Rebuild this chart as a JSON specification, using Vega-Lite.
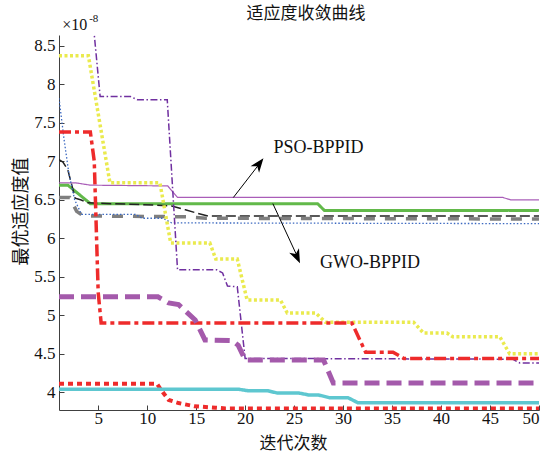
{
  "$schema": "https://vega.github.io/schema/vega-lite/v6.json",
  "width": 480,
  "height": 375,
  "autosize": {"type": "none"},
  "padding": {"left": 59, "top": 35, "right": 8, "bottom": 46},
  "background": "white",
  "title": {"text": "适应度收敛曲线", "font": "Noto Sans CJK SC", "fontSize": 17, "fontWeight": "normal", "color": "#111111", "frame": "group", "offset": -10, "dx": 7},
  "config": {
    "view": {"stroke": null},
    "axis": {"domainColor": "#404040", "domainWidth": 1, "tickColor": "#404040", "tickSize": -5, "labelFont": "Liberation Serif", "labelFontSize": 17, "labelColor": "#111111", "titleFont": "Noto Sans CJK SC", "titleFontSize": 18, "titleFontWeight": "normal", "titleColor": "#111111", "grid": false}
  },
  "datasets": {
    "curves": [
      {"series": "PSO-BPPID", "x": 1, "y": 6.72}, {"series": "PSO-BPPID", "x": 2.7, "y": 6.72}, {"series": "PSO-BPPID", "x": 4.2, "y": 6.69}, {"series": "PSO-BPPID", "x": 12.1, "y": 6.68}, {"series": "PSO-BPPID", "x": 13.1, "y": 6.53}, {"series": "PSO-BPPID", "x": 46.3, "y": 6.53}, {"series": "PSO-BPPID", "x": 47.1, "y": 6.50}, {"series": "PSO-BPPID", "x": 50, "y": 6.50},
      {"series": "GWO-BPPID", "x": 1, "y": 6.69}, {"series": "GWO-BPPID", "x": 1.9, "y": 6.69}, {"series": "GWO-BPPID", "x": 4.2, "y": 6.45}, {"series": "GWO-BPPID", "x": 27.4, "y": 6.45}, {"series": "GWO-BPPID", "x": 28.1, "y": 6.36}, {"series": "GWO-BPPID", "x": 50, "y": 6.36},
      {"series": "S3", "x": 1, "y": 7.02}, {"series": "S3", "x": 1.4, "y": 6.99}, {"series": "S3", "x": 1.9, "y": 6.89}, {"series": "S3", "x": 2.65, "y": 6.52}, {"series": "S3", "x": 3.2, "y": 6.50}, {"series": "S3", "x": 4, "y": 6.46}, {"series": "S3", "x": 11, "y": 6.43}, {"series": "S3", "x": 12.5, "y": 6.42}, {"series": "S3", "x": 13.9, "y": 6.37}, {"series": "S3", "x": 15, "y": 6.33}, {"series": "S3", "x": 16.2, "y": 6.29}, {"series": "S3", "x": 50, "y": 6.29},
      {"series": "S4", "x": 1, "y": 6.53}, {"series": "S4", "x": 2.1, "y": 6.53}, {"series": "S4", "x": 2.8, "y": 6.35}, {"series": "S4", "x": 3.5, "y": 6.29}, {"series": "S4", "x": 14, "y": 6.28}, {"series": "S4", "x": 16, "y": 6.26}, {"series": "S4", "x": 50, "y": 6.25},
      {"series": "S5", "x": 1, "y": 7.82}, {"series": "S5", "x": 1.5, "y": 7.3}, {"series": "S5", "x": 2, "y": 6.85}, {"series": "S5", "x": 2.6, "y": 6.5}, {"series": "S5", "x": 3.3, "y": 6.31}, {"series": "S5", "x": 8.8, "y": 6.31}, {"series": "S5", "x": 9.5, "y": 6.26}, {"series": "S5", "x": 11.6, "y": 6.26}, {"series": "S5", "x": 12.5, "y": 6.2}, {"series": "S5", "x": 50, "y": 6.19},
      {"series": "S6", "x": 1, "y": 8.37}, {"series": "S6", "x": 4, "y": 8.37}, {"series": "S6", "x": 6.2, "y": 6.72}, {"series": "S6", "x": 11.3, "y": 6.72}, {"series": "S6", "x": 12.4, "y": 5.94}, {"series": "S6", "x": 16.4, "y": 5.94}, {"series": "S6", "x": 17, "y": 5.73}, {"series": "S6", "x": 19.2, "y": 5.73}, {"series": "S6", "x": 20.2, "y": 5.2}, {"series": "S6", "x": 23.6, "y": 5.2}, {"series": "S6", "x": 24.3, "y": 5.03}, {"series": "S6", "x": 27.2, "y": 5.03}, {"series": "S6", "x": 28.2, "y": 4.91}, {"series": "S6", "x": 37.2, "y": 4.91}, {"series": "S6", "x": 38.2, "y": 4.77}, {"series": "S6", "x": 40.6, "y": 4.77}, {"series": "S6", "x": 41.2, "y": 4.72}, {"series": "S6", "x": 46, "y": 4.72}, {"series": "S6", "x": 47, "y": 4.5}, {"series": "S6", "x": 50, "y": 4.5},
      {"series": "S7", "x": 4, "y": 9.45}, {"series": "S7", "x": 5.2, "y": 7.84}, {"series": "S7", "x": 8.3, "y": 7.84}, {"series": "S7", "x": 9, "y": 7.8}, {"series": "S7", "x": 12.05, "y": 7.8}, {"series": "S7", "x": 13.1, "y": 5.59}, {"series": "S7", "x": 17.1, "y": 5.59}, {"series": "S7", "x": 17.7, "y": 5.55}, {"series": "S7", "x": 18.2, "y": 5.38}, {"series": "S7", "x": 19.2, "y": 5.37}, {"series": "S7", "x": 20, "y": 4.44}, {"series": "S7", "x": 47.3, "y": 4.43}, {"series": "S7", "x": 48.05, "y": 4.38}, {"series": "S7", "x": 50, "y": 4.38},
      {"series": "S8", "x": 1, "y": 7.38}, {"series": "S8", "x": 4.2, "y": 7.38}, {"series": "S8", "x": 4.6, "y": 7.0}, {"series": "S8", "x": 5.0, "y": 5.3}, {"series": "S8", "x": 5.3, "y": 4.9}, {"series": "S8", "x": 30.9, "y": 4.9}, {"series": "S8", "x": 32.3, "y": 4.52}, {"series": "S8", "x": 35.1, "y": 4.52}, {"series": "S8", "x": 36.2, "y": 4.44}, {"series": "S8", "x": 50, "y": 4.44},
      {"series": "S9", "x": 1, "y": 5.24}, {"series": "S9", "x": 11.1, "y": 5.24}, {"series": "S9", "x": 12.2, "y": 5.16}, {"series": "S9", "x": 13.2, "y": 5.14}, {"series": "S9", "x": 14.9, "y": 4.94}, {"series": "S9", "x": 15.9, "y": 4.68}, {"series": "S9", "x": 18.7, "y": 4.67}, {"series": "S9", "x": 19.3, "y": 4.61}, {"series": "S9", "x": 20, "y": 4.42}, {"series": "S9", "x": 28, "y": 4.42}, {"series": "S9", "x": 29, "y": 4.12}, {"series": "S9", "x": 50, "y": 4.12},
      {"series": "S10", "x": 1, "y": 4.11}, {"series": "S10", "x": 11, "y": 4.11}, {"series": "S10", "x": 11.6, "y": 4.0}, {"series": "S10", "x": 12.2, "y": 3.9}, {"series": "S10", "x": 13.2, "y": 3.86}, {"series": "S10", "x": 14.8, "y": 3.82}, {"series": "S10", "x": 17, "y": 3.8}, {"series": "S10", "x": 18, "y": 3.79}, {"series": "S10", "x": 50, "y": 3.79},
      {"series": "S11", "x": 1, "y": 4.04}, {"series": "S11", "x": 19.3, "y": 4.04}, {"series": "S11", "x": 20.3, "y": 4.02}, {"series": "S11", "x": 22.3, "y": 4.02}, {"series": "S11", "x": 23.3, "y": 3.99}, {"series": "S11", "x": 25.5, "y": 3.99}, {"series": "S11", "x": 26.5, "y": 3.965}, {"series": "S11", "x": 27.5, "y": 3.965}, {"series": "S11", "x": 28.6, "y": 3.93}, {"series": "S11", "x": 30.5, "y": 3.93}, {"series": "S11", "x": 31.5, "y": 3.865}, {"series": "S11", "x": 50, "y": 3.865}
    ]
  },
  "layer": [
    {
      "data": {"name": "curves"},
      "mark": {"type": "line", "clip": true},
      "encoding": {
        "x": {"field": "x", "type": "quantitative", "scale": {"domain": [1, 50], "nice": false, "zero": false},
              "axis": {"values": [5, 10, 15, 20, 25, 30, 35, 40, 45, 50], "title": "迭代次数", "labelPadding": 5, "titlePadding": 9, "titleFontSize": 17, "titleX": 234}},
        "y": {"field": "y", "type": "quantitative", "scale": {"domain": [3.77, 8.64], "nice": false, "zero": false},
              "axis": {"values": [4, 4.5, 5, 5.5, 6, 6.5, 7, 7.5, 8, 8.5], "format": "~g", "title": "最优适应度值", "labelPadding": 9, "titlePadding": 3, "titleY": 176}},
        "color": {"field": "series", "type": "nominal", "legend": null,
                  "scale": {"domain": ["PSO-BPPID", "GWO-BPPID", "S3", "S4", "S5", "S6", "S7", "S8", "S9", "S10", "S11"],
                            "range": ["#a95db8", "#62b94a", "#222222", "#7f7f7f", "#3b68c0", "#eaea4e", "#7030a0", "#ee2b2b", "#a45aab", "#ee2b2b", "#5ec7d0"]}},
        "strokeDash": {"field": "series", "type": "nominal", "legend": null,
                  "scale": {"domain": ["PSO-BPPID", "GWO-BPPID", "S3", "S4", "S5", "S6", "S7", "S8", "S9", "S10", "S11"],
                            "range": [[1, 0], [1, 0], [10, 4], [11, 10], [1.5, 2], [3, 2.5], [7, 2.5, 1.5, 2.5], [12, 4, 4, 4], [15, 7], [5, 4], [1, 0]]}},
        "strokeWidth": {"field": "series", "type": "nominal", "legend": null,
                  "scale": {"type": "ordinal", "domain": ["PSO-BPPID", "GWO-BPPID", "S3", "S4", "S5", "S6", "S7", "S8", "S9", "S10", "S11"],
                            "range": [1.2, 3, 1.5, 3.5, 1.3, 3.5, 1.5, 3.5, 5, 4, 3.5]}}
      }
    },
    {
      "data": {"values": [{"x": 18.8, "y": 6.53, "x2": 21.6, "y2": 6.99}, {"x": 22.83, "y": 6.45, "x2": 25.45, "y2": 5.73}]},
      "mark": {"type": "rule", "color": "#000000", "strokeWidth": 1},
      "encoding": {"x": {"field": "x", "type": "quantitative"}, "y": {"field": "y", "type": "quantitative"}, "x2": {"field": "x2"}, "y2": {"field": "y2"}}
    },
    {
      "data": {"values": [{"x": 21.87, "y": 7.04}]},
      "mark": {"type": "point", "shape": "M0,0 L0.38,1 L0,0.72 L-0.38,1 Z", "filled": true, "color": "#000000", "opacity": 1, "size": 800, "angle": 37.6},
      "encoding": {"x": {"field": "x", "type": "quantitative"}, "y": {"field": "y", "type": "quantitative"}}
    },
    {
      "data": {"values": [{"x": 25.6, "y": 5.675}]},
      "mark": {"type": "point", "shape": "M0,0 L0.38,1 L0,0.72 L-0.38,1 Z", "filled": true, "color": "#000000", "opacity": 1, "size": 800, "angle": 155.4},
      "encoding": {"x": {"field": "x", "type": "quantitative"}, "y": {"field": "y", "type": "quantitative"}}
    },
    {
      "data": {"values": [{"label": "PSO-BPPID", "x": 22.9, "y": 7.17}, {"label": "GWO-BPPID", "x": 27.65, "y": 5.68}]},
      "mark": {"type": "text", "align": "left", "baseline": "middle", "font": "Liberation Serif", "fontSize": 18, "fontWeight": "normal", "color": "#111111"},
      "encoding": {"x": {"field": "x", "type": "quantitative"}, "y": {"field": "y", "type": "quantitative"}, "text": {"field": "label"}}
    },
    {
      "data": {"values": [{"label": "×10", "x": 1.33, "y": 8.77}]},
      "mark": {"type": "text", "align": "left", "baseline": "middle", "font": "Liberation Serif", "fontSize": 16, "color": "#111111"},
      "encoding": {"x": {"field": "x", "type": "quantitative"}, "y": {"field": "y", "type": "quantitative"}, "text": {"field": "label"}}
    },
    {
      "data": {"values": [{"label": "-8", "x": 4.08, "y": 8.85}]},
      "mark": {"type": "text", "align": "left", "baseline": "middle", "font": "Liberation Serif", "fontSize": 11, "color": "#111111"},
      "encoding": {"x": {"field": "x", "type": "quantitative"}, "y": {"field": "y", "type": "quantitative"}, "text": {"field": "label"}}
    }
  ]
}
